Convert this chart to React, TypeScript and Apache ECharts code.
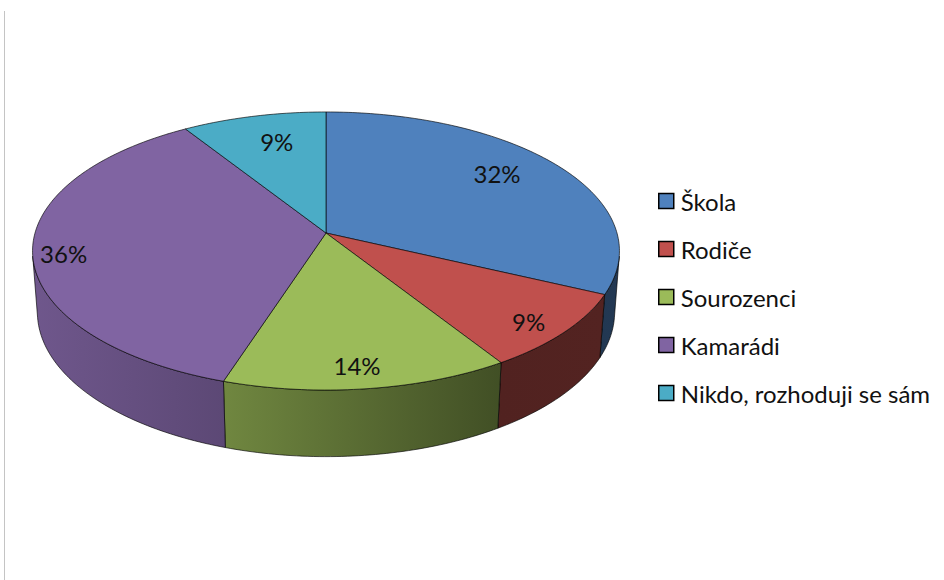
import React, { useEffect, useRef } from 'react';
import * as echarts from 'echarts';

// ---- data ----
const categories = ['Škola', 'Rodiče', 'Sourozenci', 'Kamarádi', 'Nikdo, rozhoduji se sám'];
const values = [32, 9, 14, 36, 9];
const colors = ['#4F81BD', '#C0504D', '#9BBB59', '#8064A2', '#4BACC6'];

// ---- layout (label nudges in px from the computed anchor) ----
const labelNudge = [[7, -11], [40, 21], [3, 28], [-58, 8], [3, -7]];

// ---- 3D projection parameters ----
const CX = 326;
const CY = 233;
const FOCAL = 1983.7;
const DIST = 6.817;
const SIN_T = 0.4698;
const COS_T = 0.8828;
const THICK = 0.24;
const FONT = 'Lato, "Liberation Sans", sans-serif';

const total = values.reduce((a, b) => a + b, 0);
const starts: number[] = [];
{
  let acc = 0;
  values.forEach((v) => {
    starts.push((acc / total) * 360);
    acc += v;
  });
}

function project(phiDeg: number, r: number, y3: number): number[] {
  const p = (phiDeg * Math.PI) / 180;
  const x3 = r * Math.sin(p);
  const z3 = r * Math.cos(p);
  const yv = y3 * COS_T + z3 * SIN_T;
  const d = DIST + z3 * COS_T - y3 * SIN_T;
  return [CX + (FOCAL * x3) / d, CY - (FOCAL * yv) / d];
}

function arc(a0: number, a1: number, y3: number): number[][] {
  const n = Math.max(2, Math.ceil(Math.abs(a1 - a0) / 1));
  const pts: number[][] = [];
  for (let j = 0; j <= n; j++) pts.push(project(a0 + ((a1 - a0) * j) / n, 1, y3));
  return pts;
}

// visible (front-facing) range of the outer wall
const visCos = -1 / (DIST * COS_T);
const VIS0 = (Math.acos(visCos) * 180) / Math.PI; // ~99.6
const VIS1 = 360 - VIS0;

const shadeTable = [
  [90, 0.44],
  [150, 0.42],
  [165, 0.5],
  [198, 0.72],
  [262, 0.87],
];
function shade(phi: number): number {
  if (phi <= shadeTable[0][0]) return shadeTable[0][1];
  for (let i = 1; i < shadeTable.length; i++) {
    if (phi <= shadeTable[i][0]) {
      const [a0, s0] = shadeTable[i - 1];
      const [a1, s1] = shadeTable[i];
      return s0 + ((s1 - s0) * (phi - a0)) / (a1 - a0);
    }
  }
  return shadeTable[shadeTable.length - 1][1];
}
function scaleColor(hex: string, f: number): string {
  const n = parseInt(hex.slice(1), 16);
  const r = Math.round(((n >> 16) & 255) * f);
  const g = Math.round(((n >> 8) & 255) * f);
  const b = Math.round((n & 255) * f);
  return `rgb(${r},${g},${b})`;
}

const EDGE = 'rgba(0,0,0,0.8)';

function App() {
  const ref = useRef<HTMLDivElement>(null);
  useEffect(() => {
    if (!ref.current) return;
    const chart = echarts.init(ref.current, undefined, { renderer: 'svg' });

    const wallSeries = {
      type: 'custom',
      name: 'walls',
      coordinateSystem: 'none',
      z: 2,
      silent: true,
      data: values.map((v, i) => [i, v]),
      renderItem: (params: any, api: any) => {
        const i = api.value(0);
        const a0 = starts[i];
        const a1 = a0 + (api.value(1) / total) * 360;
        const s = Math.max(a0, VIS0);
        const e = Math.min(a1, VIS1);
        if (s >= e) return { type: 'group', children: [] };
        const top = arc(s, e, 0);
        const bot = arc(e, s, -THICK);
        const leftShade = shade(e);
        const rightShade = shade(s);
        return {
          type: 'polygon',
          shape: { points: top.concat(bot) },
          style: {
            fill: {
              type: 'linear',
              x: 0,
              y: 0,
              x2: 1,
              y2: 0,
              colorStops: [
                { offset: 0, color: scaleColor(colors[i], leftShade) },
                { offset: 1, color: scaleColor(colors[i], rightShade) },
              ],
            },
            stroke: EDGE,
            lineWidth: 0.8,
            lineJoin: 'round',
          },
        };
      },
    };

    const topSeries = categories.map((name, i) => ({
      type: 'custom',
      name,
      coordinateSystem: 'none',
      z: 3,
      itemStyle: { color: colors[i] },
      data: [[i, values[i]]],
      renderItem: (params: any, api: any) => {
        const idx = api.value(0);
        const v = api.value(1);
        const a0 = starts[idx];
        const a1 = a0 + (v / total) * 360;
        const pts = [[CX, CY]].concat(arc(a0, a1, 0));
        const mid = (a0 + a1) / 2;
        const anchor = project(mid, 0.7, 0);
        const lx = anchor[0] + labelNudge[idx][0];
        const ly = anchor[1] + labelNudge[idx][1];
        return {
          type: 'group',
          children: [
            {
              type: 'polygon',
              shape: { points: pts },
              style: { fill: colors[idx], stroke: EDGE, lineWidth: 0.8, lineJoin: 'round' },
            },
            {
              type: 'text',
              x: lx,
              y: ly,
              style: {
                text: Math.round((v / total) * 100) + '%',
                fill: '#111',
                fontSize: 24,
                fontFamily: FONT,
                align: 'center',
                verticalAlign: 'middle',
              },
            },
          ],
        };
      },
    }));

    chart.setOption({
      animation: false,
      backgroundColor: '#ffffff',
      legend: {
        data: categories,
        orient: 'vertical',
        left: 653,
        top: 184,
        icon: 'rect',
        itemWidth: 15,
        itemHeight: 15,
        itemGap: 24,
        itemStyle: { borderColor: '#000', borderWidth: 1.5 },
        textStyle: {
          fontSize: 24,
          lineHeight: 24,
          color: '#111',
          fontFamily: FONT,
          padding: [0, 0, 0, 2],
        },
        selectedMode: false,
      },
      graphic: [
        {
          type: 'line',
          shape: { x1: 4.5, y1: 11, x2: 4.5, y2: 580 },
          style: { stroke: '#c4c4c4', lineWidth: 1 },
          silent: true,
        },
      ],
      series: [wallSeries, ...topSeries],
    });
    return () => chart.dispose();
  }, []);
  return (
    <div
      ref={ref}
      style={{ position: 'fixed', left: 0, top: 0, width: 944, height: 580, background: '#fff' }}
    />
  );
}

export default App;
